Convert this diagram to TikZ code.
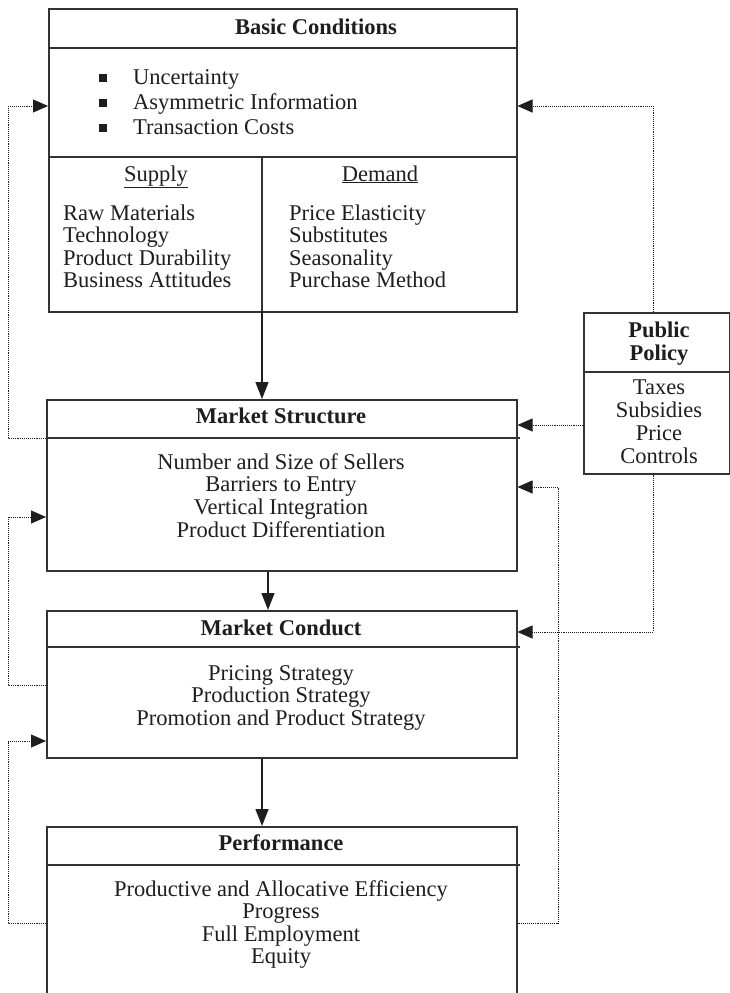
\documentclass[tikz,border=0pt]{standalone}
\usepackage{fontspec}
\setmainfont{Liberation Serif}
\usetikzlibrary{arrows.meta}
\definecolor{ink}{HTML}{1E1E1E}
\definecolor{lineclr}{HTML}{333333}
\begin{document}
\begin{tikzpicture}[x=1pt,y=-1pt,
 box/.style={draw=lineclr, line width=1.5pt, rectangle, inner sep=0pt, anchor=north west},
 txt/.style={inner sep=0pt, text=ink, font=\fontsize{22.5}{23}\selectfont},
 ttl/.style={inner sep=0pt, text=ink, font=\fontsize{22.5}{23}\selectfont\bfseries},
 sep/.style={draw=lineclr, line width=1.5pt},
 flow/.style={draw=ink, line width=1.4pt, -{Triangle[length=17pt,width=13pt]}},
 fb/.style={draw=ink, line width=0.9pt, dash pattern=on 1pt off 0.9pt, -{Triangle[length=15pt,width=13pt]}},
 bul/.style={fill=ink, minimum size=8pt, inner sep=0pt},
 ]
\clip (0,0) rectangle (730,993);
\fill[white] (0,0) rectangle (730,993);

% boxes
\node[box, minimum width=468pt, minimum height=303pt] (bc) at (48,8) {};
\node[box, minimum width=470pt, minimum height=171pt] (ms) at (46,399) {};
\node[box, minimum width=470pt, minimum height=147pt] (mc) at (46,610) {};
\node[box, minimum width=470pt, minimum height=260pt] (pf) at (46,826) {};
\node[box, minimum width=146pt, minimum height=161pt] (pp) at (583,312) {};

% separators
\draw[sep] (bc.west |- 0,48) -- (bc.east |- 0,48);
\draw[sep] (bc.west |- 0,157) -- (bc.east |- 0,157);
\draw[sep] (262,157) -- (262,311);
\draw[sep] (ms.west |- 0,438) -- ([xshift=2pt]ms.east |- 0,438);
\draw[sep] (mc.west |- 0,647) -- ([xshift=2pt]mc.east |- 0,647);
\draw[sep] (pf.west |- 0,865) -- ([xshift=2pt]pf.east |- 0,865);
\draw[sep] (pp.west |- 0,372) -- (pp.east |- 0,372);

% Basic conditions text
\node[ttl, anchor=base] (bct) at (316,34) {Basic Conditions};
\node[bul] (b1) at (103,78) {};
\node[bul] (b2) at (103,103) {};
\node[bul] (b3) at (103,128) {};
\node[txt, anchor=base west] (u1) at (133,84) {Uncertainty};
\node[txt, anchor=base west] (u2) at (133,109) {Asymmetric Information};
\node[txt, anchor=base west] (u3) at (133,134) {Transaction Costs};
\node[txt, anchor=base] (suph) at (156,181) {\underline{Supply}};
\node[txt, anchor=base] (demh) at (380,181) {\underline{Demand}};
\foreach \t [count=\i] in {Raw Materials, Technology, Product Durability, Business Attitudes}
  \node[txt, anchor=base west] (sup\i) at (63,220+22.5*\i-22.5) {\t};
\foreach \t [count=\i] in {Price Elasticity, Substitutes, Seasonality, Purchase Method}
  \node[txt, anchor=base west] (dem\i) at (289,220+22.5*\i-22.5) {\t};

% Market structure
\node[ttl, anchor=base] (mst) at (281,423) {Market Structure};
\foreach \t [count=\i] in {Number and Size of Sellers, Barriers to Entry, Vertical Integration, Product Differentiation}
  \node[txt, anchor=base] (msl\i) at (281,469+22.7*\i-22.7) {\t};

% Market conduct
\node[ttl, anchor=base] (mct) at (281,635) {Market Conduct};
\foreach \t [count=\i] in {Pricing Strategy, Production Strategy, Promotion and Product Strategy}
  \node[txt, anchor=base] (mcl\i) at (281,680+22.7*\i-22.7) {\t};

% Performance
\node[ttl, anchor=base] (pft) at (281,850) {Performance};
\foreach \t [count=\i] in {Productive and Allocative Efficiency, Progress, Full Employment, Equity}
  \node[txt, anchor=base] (pfl\i) at (281,896+22.6*\i-22.6) {\t};

% Public policy
\node[ttl, anchor=base] (ppt1) at (659,337) {Public};
\node[ttl, anchor=base] (ppt2) at (659,360) {Policy};
\foreach \t [count=\i] in {Taxes, Subsidies, Price, Controls}
  \node[txt, anchor=base] (ppl\i) at (659,394+23*\i-23) {\t};

% solid flow arrows
\draw[flow] (262,311) -- (ms.north -| 262,0);
\draw[flow] (ms.south -| 268,0) -- (mc.north -| 268,0);
\draw[flow] (mc.south -| 262,0) -- (pf.north -| 262,0);

% coordinates for feedback connectors
\coordinate (bcL) at (bc.west |- 0,106);
\coordinate (bcR) at (bc.east |- 0,106);
\coordinate (msLo) at (ms.west |- 0,438);
\coordinate (msLi) at (ms.west |- 0,517);
\coordinate (mcLo) at (mc.west |- 0,685);
\coordinate (mcLi) at (mc.west |- 0,741);
\coordinate (pfLo) at (pf.west |- 0,923);
\coordinate (pfRo) at (pf.east |- 0,923);
\coordinate (msRa) at (ms.east |- 0,425);
\coordinate (msRb) at (ms.east |- 0,487);
\coordinate (mcR) at (mc.east |- 0,632);
\coordinate (ppT) at (pp.north -| 653,0);
\coordinate (ppB) at (pp.south -| 653,0);
\coordinate (ppL) at (pp.west |- 0,425);
\coordinate (lx1) at (8,438);
\coordinate (lx2) at (8,685);
\coordinate (lx3) at (8,923);
\coordinate (rx1) at (558,923);

% feedback connectors
\draw[fb] (msLo) -- (lx1) |- (bcL);
\draw[fb] (mcLo) -- (lx2) |- (msLi);
\draw[fb] (pfLo) -- (lx3) |- (mcLi);
\draw[fb] (ppT) |- (bcR);
\draw[fb] (ppL) -- (msRa);
\draw[fb] (ppB) |- (mcR);
\draw[fb] (pfRo) -- (rx1) |- (msRb);
\end{tikzpicture}
\end{document}
